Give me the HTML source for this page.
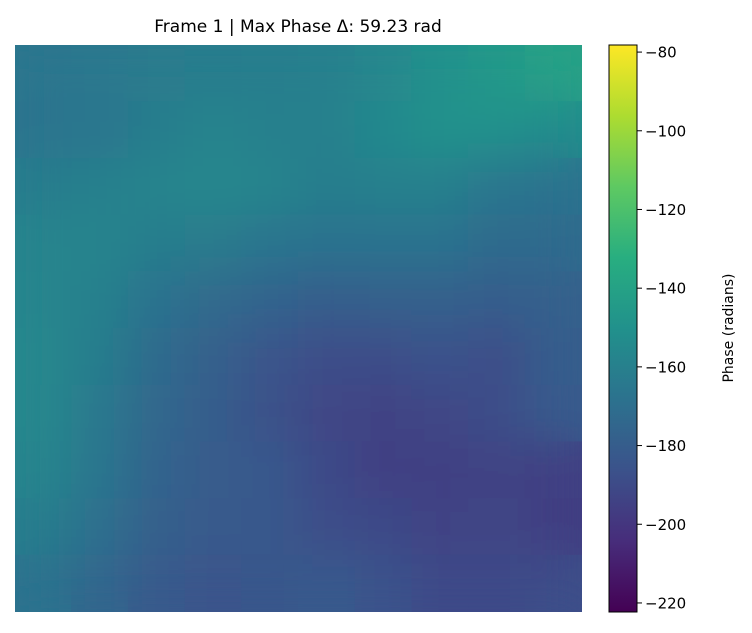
<!DOCTYPE html>
<html><head><meta charset="utf-8"><style>
body{margin:0;background:#fff;width:752px;height:629px;overflow:hidden;font-family:"DejaVu Sans",sans-serif}
</style></head><body>
<svg id="chart" width="752" height="629" xmlns="http://www.w3.org/2000/svg">
<defs>
<filter id="blur" x="15" y="45" width="567" height="567" filterUnits="userSpaceOnUse"><feGaussianBlur stdDeviation="22"/></filter>
<linearGradient id="cbgrad" x1="0" y1="1" x2="0" y2="0">
<stop offset="0" stop-color="#440154"/><stop offset="0.125" stop-color="#472d7b"/><stop offset="0.25" stop-color="#3b528b"/><stop offset="0.375" stop-color="#2c728e"/><stop offset="0.5" stop-color="#21918c"/><stop offset="0.625" stop-color="#28ae80"/><stop offset="0.75" stop-color="#5ec962"/><stop offset="0.875" stop-color="#addc30"/><stop offset="1" stop-color="#fde725"/>
</linearGradient>
<clipPath id="clip"><rect x="15" y="45" width="567" height="567"/></clipPath>
</defs>
<text x="298" y="32" text-anchor="middle" font-size="17" font-family="DejaVu Sans, sans-serif">Frame 1 | Max Phase Δ: 59.23 rad</text>
<g id="cells" clip-path="url(#clip)"><g id="cellsBase"></g><g id="cellsInner" filter="url(#blur)"></g></g>
<rect x="609" y="45" width="28" height="567" fill="url(#cbgrad)" stroke="#000" stroke-width="1"/>
<g id="ticks"></g>
<text transform="translate(733,328) rotate(-90)" text-anchor="middle" font-size="14" font-family="DejaVu Sans, sans-serif">Phase (radians)</text>
</svg>
<script>
const gridValues = [
[-166,-165,-163,-162,-161,-160,-156,-150,-146,-141],
[-167,-166,-162,-158,-160,-160,-155,-150,-150,-153],
[-162,-160,-158,-156,-158,-162,-160,-160,-166,-168],
[-158,-158,-162,-163,-167,-168,-168,-168,-172,-172],
[-157,-160,-168,-173,-176,-180,-178,-178,-180,-178],
[-156,-162,-172,-178,-185,-188,-188,-186,-188,-180],
[-156,-165,-174,-180,-187,-192,-194,-192,-188,-182],
[-158,-166,-176,-181,-183,-190,-195,-195,-194,-195],
[-162,-170,-178,-182,-183,-188,-190,-194,-192,-196],
[-168,-175,-182,-185,-184,-182,-186,-190,-190,-188]
];
const tickValues = [-80,-100,-120,-140,-160,-180,-200,-220];
const tickLabels = ["\u221280","\u2212100","\u2212120","\u2212140","\u2212160","\u2212180","\u2212200","\u2212220"];
const vmin = -222.3, vmax = -78.2;
const NS = "http://www.w3.org/2000/svg";
const vir = [[68,1,84],[71,45,123],[59,82,139],[44,114,142],[33,145,140],[40,174,128],[94,201,98],[173,220,48],[253,231,37]];
function color(v){
  let t=(v-vmin)/(vmax-vmin); t=Math.max(0,Math.min(1,t));
  const p=t*8, i=Math.min(7,Math.floor(p)), f=p-i;
  const c=vir[i].map((a,k)=>Math.round(a+(vir[i+1][k]-a)*f));
  return `rgb(${c[0]},${c[1]},${c[2]})`;
}
const x0=15,y0=45,W=567,H=567;
const rows=gridValues.length, cols=gridValues[0].length;
const cw=W/cols, ch=H/rows;
const base=document.getElementById('cellsBase');
const inner=document.getElementById('cellsInner');
gridValues.forEach((row,r)=>row.forEach((v,c)=>{
  [base,inner].forEach((g,k)=>{
    const rc=document.createElementNS(NS,'rect');
    rc.setAttribute('x',x0+c*cw-0.5);rc.setAttribute('y',y0+r*ch-0.5);
    rc.setAttribute('width',cw+1);rc.setAttribute('height',ch+1);
    rc.setAttribute('fill',color(v));
    
    
    g.appendChild(rc);
  });
}));
function cy(v){return 612-(v-vmin)/(vmax-vmin)*567;}
const tg=document.getElementById('ticks');
tickValues.forEach((v,i)=>{
  const y=cy(v);
  const l=document.createElementNS(NS,'line');
  l.setAttribute('x1',637);l.setAttribute('x2',642);l.setAttribute('y1',y);l.setAttribute('y2',y);
  l.setAttribute('stroke','#000');
  
  
  tg.appendChild(l);
  const t=document.createElementNS(NS,'text');
  t.setAttribute('x',645);t.setAttribute('y',y+5.5);t.setAttribute('font-size','15');
  t.setAttribute('font-family','DejaVu Sans, sans-serif');
  t.textContent=tickLabels[i];
  
  
  tg.appendChild(t);
});
</script>
</body></html>
